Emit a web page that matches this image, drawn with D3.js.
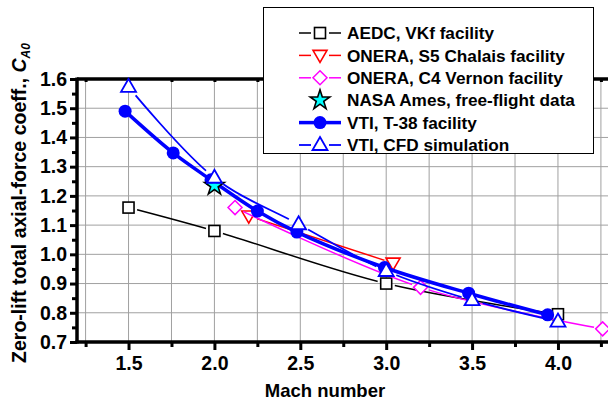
<!DOCTYPE html>
<html>
<head>
<meta charset="utf-8">
<script src="https://cdn.jsdelivr.net/npm/d3@7"></script>
<style>
  body { margin: 0; background: #fff; }
  svg { display: block; font-family: "Liberation Sans", Arial, sans-serif; font-weight: bold; }
</style>
</head>
<body>
<div id="chart"></div>
<script>
// values
const aedcMach = [1.5, 2.0, 3.0, 4.0];
const aedcCA = [1.16, 1.08, 0.90, 0.795];

const s5Mach = [2.2, 3.04];
const s5CA = [1.131, 0.97];

const c4Mach = [2.12, 3.2, 4.26];
const c4CA = [1.16, 0.887, 0.745];

const nasaMach = [2.0];
const nasaCA = [1.235];

const t38Mach = [1.48, 1.76, 1.98, 2.25, 2.48, 2.99, 3.48, 3.94];
const t38CA = [1.49, 1.347, 1.255, 1.148, 1.076, 0.955, 0.867, 0.793];

const cfdMach = [1.5, 2.0, 2.49, 3.0, 3.5, 4.0];
const cfdCA = [1.573, 1.262, 1.103, 0.943, 0.843, 0.77];

const xTicks = [1.5, 2.0, 2.5, 3.0, 3.5, 4.0];
const yTicks = [0.7, 0.8, 0.9, 1.0, 1.1, 1.2, 1.3, 1.4, 1.5, 1.6];

const legendNames = ["AEDC, VKf facility", "ONERA, S5 Chalais facility", "ONERA, C4 Vernon facility",
  "NASA Ames, free-flight data", "VTI, T-38 facility", "VTI, CFD simulation"];

const width = 608, height = 403;
const svg = d3.select("#chart").append("svg")
  .attr("width", width).attr("height", height);

const x = d3.scaleLinear().domain([1.2, 4.3]).range([77, 609.5]);
const y = d3.scaleLinear().domain([0.7, 1.6]).range([342, 79]);

const zip = (xs, ys) => xs.map((v, i) => [v, ys[i]]);

const series = [
  {id: "aedc", pts: zip(aedcMach, aedcCA), color: "#000", lw: 1.5, sym: "square", curve: d3.curveCatmullRom, gap: 9},
  {id: "s5", pts: zip(s5Mach, s5CA), color: "#ff0000", lw: 1.5, sym: "tdown", curve: d3.curveLinear, gap: 9},
  {id: "c4", pts: zip(c4Mach, c4CA), color: "#ff00ff", lw: 1.5, sym: "diamond", curve: d3.curveCatmullRom, gap: 9},
  {id: "t38", pts: zip(t38Mach, t38CA), color: "#0000ff", lw: 3.5, sym: "circle", curve: d3.curveCatmullRom, gap: 0},
  {id: "nasa", pts: zip(nasaMach, nasaCA), color: "#000", lw: 0, sym: "star", curve: null, gap: 0},
  {id: "cfd", pts: zip(cfdMach, cfdCA), color: "#0000ff", lw: 1.8, sym: "tup", curve: d3.curveCatmullRom, gap: 11}
];

// grid
const grid = svg.append("g").attr("stroke", "#a0a0a0").attr("stroke-width", 1);
grid.selectAll(".gx").data(d3.range(1.25, 4.3, 0.25)).enter().append("line")
  .attr("x1", d => x(d)).attr("x2", d => x(d)).attr("y1", y(1.6)).attr("y2", y(0.7));
grid.selectAll(".gy").data(yTicks.slice(1, -1)).enter().append("line")
  .attr("x1", x(1.2)).attr("x2", width).attr("y1", d => y(d)).attr("y2", d => y(d));

// axes
const xAxis = d3.axisBottom(x).tickValues(xTicks).tickFormat(d3.format(".1f")).tickSize(8).tickPadding(6);
const xMinor = d3.axisBottom(x).tickValues(d3.range(1.25, 4.3, 0.5)).tickFormat("").tickSize(5);
const yAxis = d3.axisLeft(y).tickValues(yTicks).tickFormat(d3.format(".1f")).tickSize(7).tickPadding(3);
const yMinor = d3.axisLeft(y).tickValues(d3.range(0.75, 1.6, 0.1)).tickFormat("").tickSize(5);
const xTop = d3.axisBottom(x).tickValues(d3.range(1.25, 4.3, 0.25)).tickFormat("").tickSize(3);

function styleAxis(g) {
  g.select(".domain").remove();
  g.selectAll("line").attr("stroke", "#000").attr("stroke-width", 3);
  g.selectAll("text").attr("fill", "#000").style("font-size", "19.5px").style("font-weight", "bold");
}
svg.append("g").attr("transform", `translate(0,${y(0.7)})`).call(xAxis).call(styleAxis);
svg.append("g").attr("transform", `translate(0,${y(0.7)})`).call(xMinor).call(styleAxis);
svg.append("g").attr("transform", `translate(${x(1.2)},0)`).call(yAxis).call(styleAxis);
svg.append("g").attr("transform", `translate(${x(1.2)},0)`).call(yMinor).call(styleAxis);
svg.append("g").attr("transform", `translate(0,${y(1.6)})`).call(xTop).call(styleAxis);

svg.append("line").attr("x1", x(1.2)).attr("x2", width).attr("y1", y(1.6)).attr("y2", y(1.6))
  .attr("stroke", "#000").attr("stroke-width", 3.5);
svg.append("line").attr("x1", x(1.2) - 1.5).attr("x2", width).attr("y1", y(0.7)).attr("y2", y(0.7))
  .attr("stroke", "#000").attr("stroke-width", 3.5);
svg.append("line").attr("x1", x(1.2)).attr("x2", x(1.2)).attr("y1", y(1.6) - 1.5).attr("y2", y(0.7) + 1.5)
  .attr("stroke", "#000").attr("stroke-width", 3.5);

// markers
function marker(g, sym, color) {
  if (sym === "square") {
    g.append("rect").attr("x", -5.5).attr("y", -5.5).attr("width", 11).attr("height", 11)
      .attr("fill", "#fff").attr("stroke", color).attr("stroke-width", 1.6);
  } else if (sym === "tdown") {
    g.append("path").attr("d", "M-7,-5L7,-5L0,7Z").attr("fill", "#fff").attr("stroke", color).attr("stroke-width", 1.6);
  } else if (sym === "tup") {
    g.append("path").attr("d", "M0,-8L7.5,5L-7.5,5Z").attr("fill", "#fff").attr("stroke", color).attr("stroke-width", 1.8);
  } else if (sym === "diamond") {
    g.append("path").attr("d", "M0,-7L7,0L0,7L-7,0Z").attr("fill", "#fff").attr("stroke", color).attr("stroke-width", 1.5);
  } else if (sym === "circle") {
    g.append("circle").attr("r", 6.5).attr("fill", color);
  } else if (sym === "star") {
    g.append("path").attr("d", d3.symbol(d3.symbolStar, 120)()).attr("fill", "#00ffff")
      .attr("stroke", "#000").attr("stroke-width", 1.6);
  }
}

const defs = svg.append("defs");

series.forEach(s => {
  const g = svg.append("g");
  if (s.curve) {
    const line = d3.line().x(d => x(d[0])).y(d => y(d[1])).curve(s.curve);
    const path = g.append("path").attr("d", line(s.pts)).attr("fill", "none")
      .attr("stroke", s.color).attr("stroke-width", s.lw);
    if (s.gap) {
      const m = defs.append("mask").attr("id", "gap-" + s.id).attr("maskUnits", "userSpaceOnUse")
        .attr("x", 0).attr("y", 0).attr("width", width).attr("height", height);
      m.append("rect").attr("width", width).attr("height", height).attr("fill", "#fff");
      m.selectAll("circle").data(s.pts).enter().append("circle")
        .attr("cx", d => x(d[0])).attr("cy", d => y(d[1])).attr("r", s.gap).attr("fill", "#000");
      path.attr("mask", `url(#gap-${s.id})`);
    }
  }
  g.selectAll(".m").data(s.pts).enter().append("g")
    .attr("transform", d => `translate(${x(d[0])},${y(d[1])})`)
    .each(function() { marker(d3.select(this), s.sym, s.color); });
});

// legend
const legendOrder = ["aedc", "s5", "c4", "nasa", "t38", "cfd"];
const lg = svg.append("g");
lg.append("rect").attr("x", 263.5).attr("y", 7.5).attr("width", 330).attr("height", 146)
  .attr("fill", "#fff").attr("stroke", "#000").attr("stroke-width", 1);
legendOrder.forEach((id, i) => {
  const s = series.find(d => d.id === id);
  const cy = 33 + i * 22.4;
  const row = lg.append("g").attr("transform", `translate(0,${cy})`);
  if (s.curve) {
    const gap = s.sym === "circle" ? 0 : 9;
    row.append("line").attr("x1", 299).attr("x2", 320 - gap).attr("stroke", s.color).attr("stroke-width", s.lw);
    row.append("line").attr("x1", 320 + gap).attr("x2", 341).attr("stroke", s.color).attr("stroke-width", s.lw);
  }
  marker(row.append("g").attr("transform", "translate(320,0)"), s.sym, s.color);
  row.append("text").attr("x", 347).attr("dy", "0.36em").style("font-size", "17.2px").text(legendNames[i]);
});

// axis titles
svg.append("text").attr("x", 325).attr("y", 397).attr("text-anchor", "middle")
  .style("font-size", "18.5px").text("Mach number");

const yt = svg.append("text").attr("transform", "translate(26,203) rotate(-90)")
  .attr("text-anchor", "middle").style("font-size", "19.5px");
yt.append("tspan").text("Zero-lift total axial-force coeff., ");
yt.append("tspan").style("font-style", "italic").text("C");
yt.append("tspan").style("font-style", "italic").style("font-size", "12px").attr("dy", 4).text("A0");
</script>
</body>
</html>
